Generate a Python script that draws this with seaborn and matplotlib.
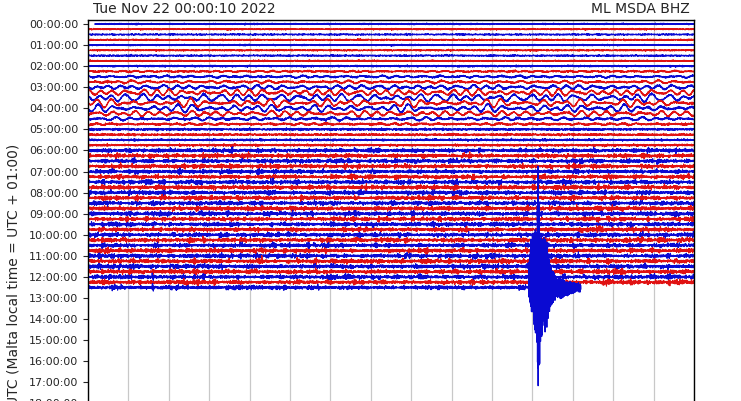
import numpy as np
import pandas as pd
import matplotlib

matplotlib.use("Agg")
import matplotlib.pyplot as plt
import seaborn as sns

# --- chart text -------------------------------------------------------------
START_LABEL = "Tue Nov 22 00:00:10 2022"
STATION = "ML MSDA BHZ"
YLABEL = "UTC (Malta local time = UTC + 01:00)"
HOUR_LABELS = [f"{h:02d}:00:00" for h in range(24)]

# --- helicorder layout (15 min per line, 96 lines per day) ------------------
LINE_MINUTES = 15
N_LINES = 96
FIRST_OFFSET_MIN = 10 / 60      # record starts at 00:00:10
LAST_LINE = 50                  # 12:30 line
LAST_END_MIN = 12.2             # record stops ~12:42:12
LINE_COLORS = ["#0a0ad2", "#e01212"]   # blue / red, alternating
PX_PER_LINE = 5.27              # vertical pixels between two traces
SAMPLES_PER_MIN = 360

NOISE_PX = [0.28, 0.28, 0.35, 0.4, 0.4, 0.42, 0.66, 0.68, 0.7, 0.7, 0.72, 0.72, 0.7]

# teleseismic surface waves 02:15 - 04:45 (pixels, peak)
WAVE_LINES = [9, 10, 11, 12, 13, 14, 15, 16, 17, 18, 19]
WAVE_PX = [0.6, 1.2, 1.6, 2.2, 3.4, 4.2, 4.6, 4.2, 3.0, 1.8, 0.8]
WAVE_PERIOD_S = [17, 20, 23, 29]

# local event on the 12:30 line: envelope in minutes / pixels up / pixels down
EQ_MIN = [10.90, 10.94, 11.04, 11.10, 11.14, 11.18, 11.24, 11.36, 11.44, 11.61, 11.86, 12.05, 12.2]
EQ_UP = [0, 50, 58, 58, 123, 58, 55, 45, 22, 11, 6, 5, 3]
EQ_DOWN = [0, 20, 40, 50, 98, 75, 47, 42, 20, 12, 9, 5, 3]
EQ_PEAK_MIN = 11.14


def build_traces() -> pd.DataFrame:
    """Builds every 15-min trace of the day as rows (line, minute, y)."""
    rng = np.random.default_rng(22)
    frames = []
    for idx in range(LAST_LINE + 1):
        t0 = FIRST_OFFSET_MIN if idx == 0 else 0.0
        t1 = LAST_END_MIN if idx == LAST_LINE else LINE_MINUTES
        m = np.arange(t0, t1, 1 / SAMPLES_PER_MIN)
        n = len(m)
        hour = idx // 4

        # background noise with mild bursts
        seg = rng.lognormal(0, 0.33 if hour >= 6 else 0.15, n // 30 + 1)
        burst = np.clip(np.repeat(seg, 30)[:n], 0.5, 2.0)
        sig = rng.normal(0, 1, n) * NOISE_PX[hour] * burst

        if idx in WAVE_LINES:
            amp = WAVE_PX[WAVE_LINES.index(idx)]
            w = np.zeros(n)
            for p in WAVE_PERIOD_S:
                w += rng.uniform(0.4, 1) * np.sin(2 * np.pi * m * 60 / p
                                                  + rng.uniform(0, 2 * np.pi))
            sig += amp * w / np.abs(w).max()

        if idx == LAST_LINE:
            mag = rng.uniform(0.45, 1, n) * np.where(np.arange(n) % 2 == 0, 1, -1)
            k = int(np.argmin(np.abs(m - EQ_PEAK_MIN)))
            mag[k], mag[k + 1] = 1.0, -1.0
            up = np.interp(m, EQ_MIN, EQ_UP, left=0, right=0)
            dn = np.interp(m, EQ_MIN, EQ_DOWN, left=0, right=0)
            up[k] = EQ_UP[EQ_MIN.index(EQ_PEAK_MIN)]
            dn[k + 1] = EQ_DOWN[EQ_MIN.index(EQ_PEAK_MIN)]
            sig += np.where(mag > 0, mag * up, mag * dn)

        frames.append(pd.DataFrame({"line": f"L{idx:02d}", "minute": m,
                                    "y": -idx + sig / PX_PER_LINE}))
    return pd.concat(frames, ignore_index=True)


def main() -> None:
    sns.set_theme(style="ticks")
    df = build_traces()
    palette = {f"L{i:02d}": LINE_COLORS[i % 2] for i in range(LAST_LINE + 1)}

    fig = plt.figure(figsize=(7.41, 4.01), dpi=100)
    ax = fig.add_axes([88 / 741, 1 - 528.6 / 401, 606 / 741, 508.6 / 401])

    ax.set_xticks(range(LINE_MINUTES + 1))
    ax.grid(axis="x", color="#c8c8c8", linewidth=0.9)
    ax.set_axisbelow(True)

    sns.lineplot(data=df, x="minute", y="y", hue="line", palette=palette,
                 estimator=None, sort=False, legend=False, linewidth=0.8, ax=ax)

    ax.set_xlim(0, LINE_MINUTES)
    ax.set_ylim(-(N_LINES - 1) - 0.75, 0.75)
    ax.set_yticks([-4 * h for h in range(24)])
    ax.set_yticklabels(HOUR_LABELS, fontsize=8, color="#262626")
    ax.tick_params(axis="y", direction="out", length=3.5, width=0.8)
    ax.tick_params(axis="x", labelbottom=False, length=0)
    ax.set_xlabel("")
    ax.set_ylabel("")
    for sp in ax.spines.values():
        sp.set_visible(True)
        sp.set_color("black")
        sp.set_linewidth(1.0)

    fig.text(93 / 741, 1 - 13 / 401, START_LABEL, fontsize=10, va="baseline",
             color="#262626")
    fig.text(690 / 741, 1 - 13 / 401, STATION, fontsize=10, va="baseline",
             ha="right", color="#262626")
    fig.text(14 / 741, 1 - 275 / 401, YLABEL, fontsize=10, rotation=90,
             va="center", ha="center", color="#262626")

    fig.savefig("out.png", dpi=100)
    plt.close(fig)


if __name__ == "__main__":
    main()
